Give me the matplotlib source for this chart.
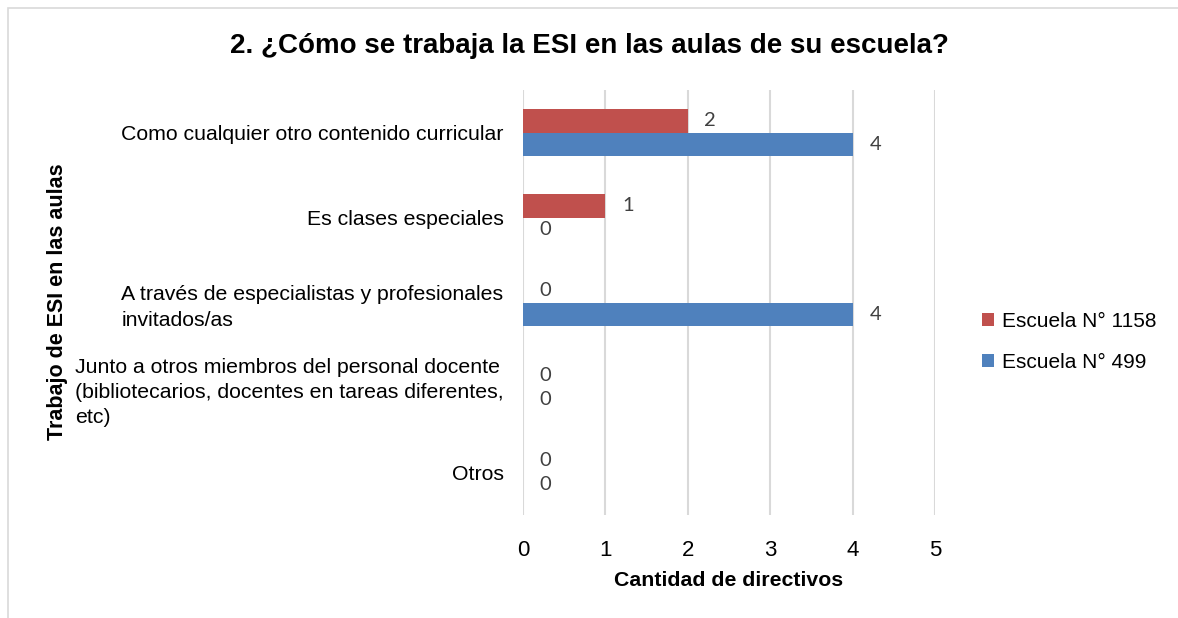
import matplotlib.pyplot as plt
from matplotlib.patches import Rectangle
import numpy as np

categorias = [
    "Como cualquier otro contenido curricular",
    "Es clases especiales",
    "A través de especialistas y profesionales\ninvitados/as",
    "Junto a otros miembros del personal docente\n(bibliotecarios, docentes en tareas diferentes,\netc)",
    "Otros",
]
escuela_1158 = [2, 1, 0, 0, 0]
escuela_499 = [4, 0, 4, 0, 0]

rojo = "#C0504D"
azul = "#4F81BD"

plt.rcParams['font.family'] = ['Liberation Sans', 'DejaVu Sans']

fig = plt.figure(figsize=(11.78, 6.18), dpi=100)
ax = fig.add_axes([523 / 1178, 1 - 515 / 618, 412 / 1178, 425 / 618])

y = np.arange(len(categorias))
h = 0.28
b1 = ax.barh(y - h / 2, escuela_1158, height=h, color=rojo, label="Escuela N° 1158")
b2 = ax.barh(y + h / 2, escuela_499, height=h, color=azul, label="Escuela N° 499")

# etiquetas de datos
for barras in (b1, b2):
    for r in barras:
        ax.annotate(str(int(r.get_width())),
                    (r.get_width(), r.get_y() + r.get_height() / 2),
                    xytext=(12, 0), textcoords='offset points',
                    ha='left', va='center', fontsize=14.5, color='#404040',
                    family=['Lato', 'DejaVu Sans'])

ax.set_xlim(0, 5)
ax.set_ylim(len(categorias) - 0.5, -0.5)
ax.set_xticks(range(6))
ax.set_yticks(y)
ax.set_yticklabels(categorias, fontsize=15.3)
for t in ax.get_yticklabels():
    t.set_multialignment('left')
    t.set_linespacing(1.4)
ax.tick_params(axis='x', length=0, pad=18, labelsize=16)
ax.tick_params(axis='y', length=0, pad=14)
ax.grid(axis='x', color='#D9D9D9', linewidth=1.5)
ax.set_axisbelow(True)
for s in ax.spines.values():
    s.set_visible(False)

ax.set_xlabel("Cantidad de directivos", fontsize=15.3, fontweight='bold', labelpad=7)
fig.text(57 / 1178, 1 - 302 / 618, "Trabajo de ESI en las aulas", rotation=90,
         ha='center', va='center', fontsize=15.5, fontweight='bold')
fig.text(589 / 1178, 1 - 46 / 618, "2. ¿Cómo se trabaja la ESI en las aulas de su escuela?",
         ha='center', va='center', fontsize=20, fontweight='bold')

ax.legend(loc='center left', bbox_to_anchor=(963 / 1178, 1 - 342 / 618),
          bbox_transform=fig.transFigure, frameon=False, fontsize=15,
          handlelength=0.6, handleheight=0.6, handletextpad=0.35, labelspacing=1.05)

fig.patches.append(Rectangle((8 / 1178, -0.05), 1.1, 1 - 8 / 618 + 0.05,
                             transform=fig.transFigure, fill=False,
                             edgecolor='#D9D9D9', linewidth=1.2))

plt.savefig("out.png", dpi=100)
